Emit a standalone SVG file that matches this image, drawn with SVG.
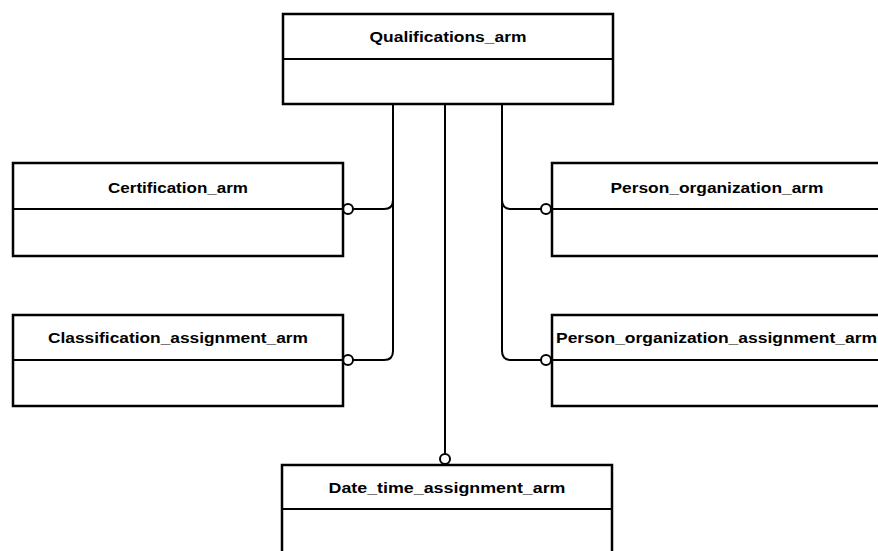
<svg xmlns="http://www.w3.org/2000/svg" width="878" height="551" viewBox="0 0 878 551">
<style>
.box{fill:#fff;stroke:#000;stroke-width:2.5}
.div{stroke:#000;stroke-width:2}
.lbl{font-family:"Liberation Sans",Arial,sans-serif;font-weight:bold;font-size:14px;fill:#000}
.c{fill:none;stroke:#000;stroke-width:2}
.o{fill:#fff;stroke:#000;stroke-width:2}
</style>
<rect width="878" height="551" fill="#fff"/>
<g id="connectors">
<path class="c" d="M393,104 V200 Q393,209 384,209 H353"/>
<path class="c" d="M393,104 V351 Q393,360 384,360 H353"/>
<path class="c" d="M502,104 V200 Q502,209 511,209 H541"/>
<path class="c" d="M502,104 V351 Q502,360 511,360 H541"/>
<path class="c" d="M445,104 V455"/>
<circle class="o" cx="348" cy="209" r="5"/>
<circle class="o" cx="348" cy="360" r="5"/>
<circle class="o" cx="546" cy="209" r="5"/>
<circle class="o" cx="546" cy="360" r="5"/>
<circle class="o" cx="445" cy="459" r="5"/>
</g>
<g id="qualifications">
<rect class="box" x="283" y="14" width="330" height="90"/>
<line class="div" x1="283" y1="59" x2="613" y2="59"/>
<text class="lbl" x="448" y="42" text-anchor="middle" textLength="157" lengthAdjust="spacingAndGlyphs">Qualifications_arm</text>
</g>
<g id="certification">
<rect class="box" x="13" y="163" width="330" height="93"/>
<line class="div" x1="13" y1="209" x2="343" y2="209"/>
<text class="lbl" x="178" y="193" text-anchor="middle" textLength="140" lengthAdjust="spacingAndGlyphs">Certification_arm</text>
</g>
<g id="classification">
<rect class="box" x="13" y="315" width="330" height="91"/>
<line class="div" x1="13" y1="360" x2="343" y2="360"/>
<text class="lbl" x="178" y="343" text-anchor="middle" textLength="260" lengthAdjust="spacingAndGlyphs">Classification_assignment_arm</text>
</g>
<g id="person_org">
<rect class="box" x="552" y="163" width="340" height="93"/>
<line class="div" x1="552" y1="209" x2="892" y2="209"/>
<text class="lbl" x="717" y="193" text-anchor="middle" textLength="213" lengthAdjust="spacingAndGlyphs">Person_organization_arm</text>
</g>
<g id="person_org_assign">
<rect class="box" x="552" y="315" width="340" height="91"/>
<line class="div" x1="552" y1="360" x2="892" y2="360"/>
<text class="lbl" x="556" y="343" textLength="321" lengthAdjust="spacingAndGlyphs">Person_organization_assignment_arm</text>
</g>
<g id="date_time">
<rect class="box" x="282" y="465" width="330" height="100"/>
<line class="div" x1="282" y1="509" x2="612" y2="509"/>
<text class="lbl" x="447" y="493" text-anchor="middle" textLength="237" lengthAdjust="spacingAndGlyphs">Date_time_assignment_arm</text>
</g>
</svg>
